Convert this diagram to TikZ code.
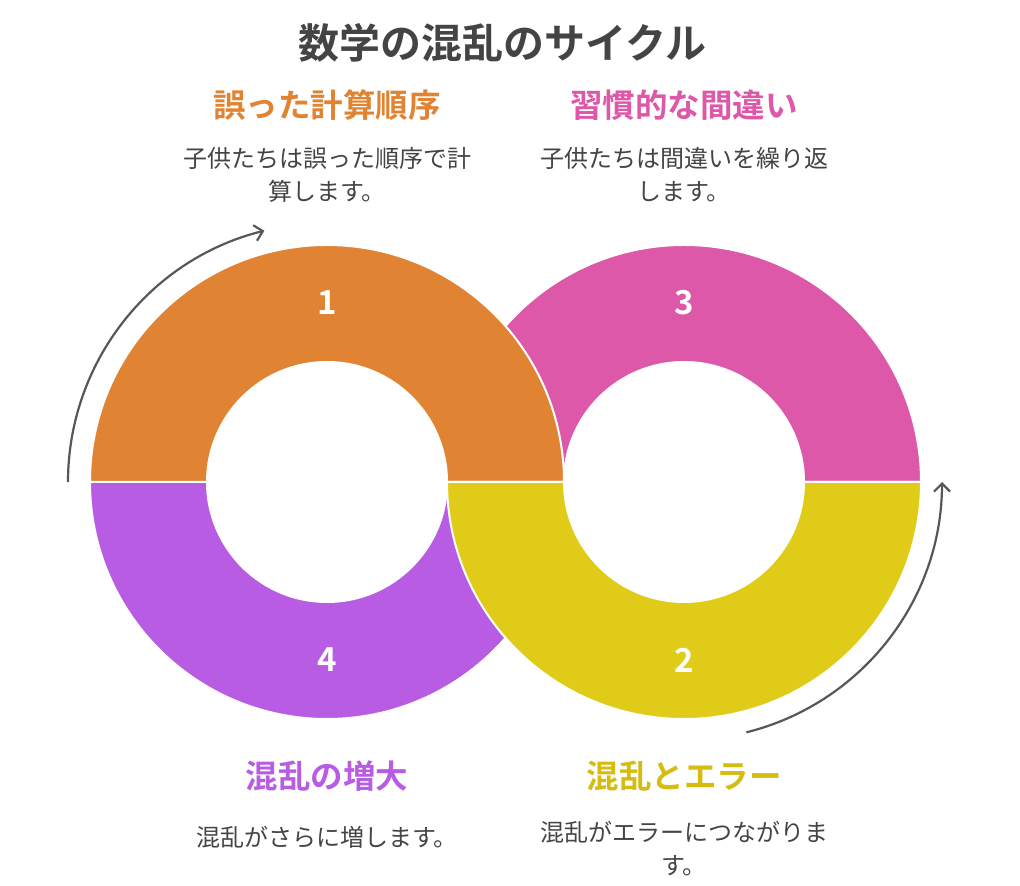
\documentclass[tikz,border=0pt]{standalone}
\usepackage{fontspec}
\setmainfont{Noto Sans CJK JP}
\newfontfamily\boldjp{Noto Sans CJK JP Bold}
\usepackage{tikz}
\usetikzlibrary{arrows.meta}
\definecolor{segorange}{HTML}{E08433}
\definecolor{segpink}{HTML}{DD58A8}
\definecolor{segyellow}{HTML}{DFCB18}
\definecolor{segpurple}{HTML}{B75CE3}
\definecolor{headyellow}{HTML}{D6BC10}
\definecolor{txtgray}{HTML}{444444}

\begin{document}
\begin{tikzpicture}[x=1pt, y=1pt, >={Straight Barb[length=8pt, width=16pt]},
    seg/.style={draw=white, line width=2pt},
    head/.style={font=\boldjp\fontsize{32.5}{34}\selectfont},
    desc/.style={font=\fontsize{24}{33}\selectfont, text=txtgray, align=center},
    num/.style={font=\boldjp\fontsize{33}{35}\selectfont, text=white},
    cyc/.style={->, line width=2.2pt, draw=txtgray!90}]
    % 枠
    \useasboundingbox (0,0) rectangle (1020,886);
    % 中心
    \coordinate (L) at (327,404);
    \coordinate (R) at (684,404);
    
    % 右上と左下
    \fill[segpink, seg] (R) ++(237,0) arc[start angle=0, end angle=180, radius=237]
        -- ++(117,0) arc[start angle=180, end angle=0, radius=120] -- cycle;
    \fill[segpurple, seg] (L) ++(-237,0) arc[start angle=180, end angle=360, radius=237]
        -- ++(-117,0) arc[start angle=360, end angle=180, radius=120] -- cycle;
    % 左上と右下
    \fill[segorange, seg] (L) ++(237,0) arc[start angle=0, end angle=180, radius=237]
        -- ++(117,0) arc[start angle=180, end angle=0, radius=120] -- cycle;
    \fill[segyellow, seg] (R) ++(-237,0) arc[start angle=180, end angle=360, radius=237]
        -- ++(-117,0) arc[start angle=360, end angle=180, radius=120] -- cycle;
    
    % 番号
    \node[num] (n1) at (327,583) {1};
    \node[num] (n2) at (684,226) {2};
    \node[num] (n3) at (684,583) {3};
    \node[num] (n4) at (327,226) {4};
    
    % 矢印
    \draw[cyc] (L) ++(180:259) arc[start angle=180, end angle=104, radius=259];
    \draw[cyc] (R) ++(-76:258) arc[start angle=-76, end angle=0, radius=258];
    
    % タイトルとラベル
    \node[font=\boldjp\fontsize{41}{43}\selectfont, text=txtgray] (title) at (502,843) {数学の混乱のサイクル};
    \node[head, text=segorange] (h1) at (327,781) {誤った計算順序};
    \node[desc] (d1) at (327,711) {子供たちは誤った順序で計\\算します。};
    \node[head, text=segpink] (h3) at (684,781) {習慣的な間違い};
    \node[desc] (d3) at (684,711) {子供たちは間違いを繰り返\\します。};
    \node[head, text=segpurple] (h4) at (327,110) {混乱の増大};
    \node[desc] (d4) at (327,49) {混乱がさらに増します。};
    \node[head, text=headyellow] (h2) at (684,110) {混乱とエラー};
    \node[desc] (d2) at (684,37) {混乱がエラーにつながりま\\す。};
\end{tikzpicture}
\end{document}
